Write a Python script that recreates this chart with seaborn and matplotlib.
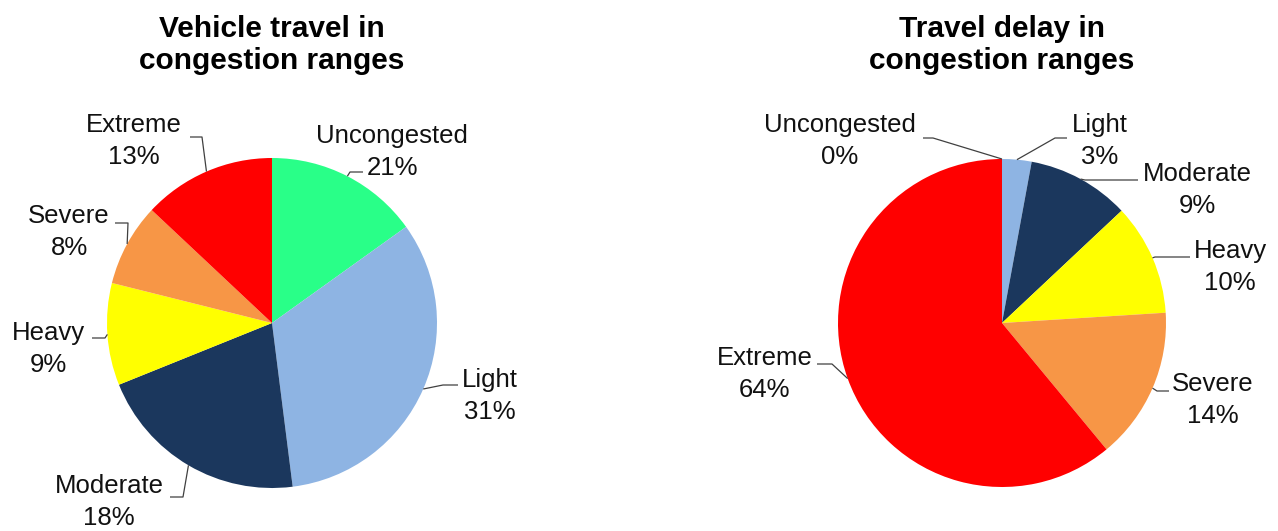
import matplotlib
matplotlib.use("Agg")
import matplotlib.pyplot as plt
import seaborn as sns
import numpy as np

# categories and values (slice sizes, labels as printed)
categories = ["Uncongested", "Light", "Moderate", "Heavy", "Severe", "Extreme"]
travel_share = [15.1, 32.9, 20.9, 10.0, 8.1, 13.0]
travel_labels = ["21%", "31%", "18%", "9%", "8%", "13%"]
delay_share = [0.0, 2.9, 10.1, 11.0, 15.0, 61.0]
delay_labels = ["0%", "3%", "9%", "10%", "14%", "64%"]
colors = ["#29FF88", "#8EB4E3", "#1B375D", "#FFFF00", "#F79646", "#FF0000"]

sns.set_theme(style="white")
plt.rcParams["font.family"] = ["Liberation Sans", "DejaVu Sans"]

W, H = 1278, 531
fig = plt.figure(figsize=(W / 100, H / 100), dpi=100)
fig.patch.set_facecolor("white")


def draw_pie(cx, cy, R, values, pcts, title, title_y, label_pos):
    L = 2.8
    ax = fig.add_axes([(cx - L * R) / W, (H - cy - L * R) / H, 2 * L * R / W, 2 * L * R / H])
    wedges, _ = ax.pie(values, colors=colors, startangle=90, counterclock=False,
                       radius=1, wedgeprops=dict(linewidth=0))
    ax.set_xlim(-L, L)
    ax.set_ylim(-L, L)
    ax.set_aspect("equal")
    ax.axis("off")

    def to_d(px, py):
        return (px - cx) / R, (cy - py) / R

    for w, name, pct, (tx, ty, sx, sy, kx) in zip(wedges, categories, pcts, label_pos):
        mid = np.deg2rad((w.theta1 + w.theta2) / 2)
        ax_, ay_ = np.cos(mid), np.sin(mid)
        x0, y0 = to_d(sx, sy)
        x1, _ = to_d(kx, sy)
        ax.plot([x0, x1, ax_], [y0, y0, ay_], color="#404040", lw=0.9,
                clip_on=False, solid_capstyle="butt")
        x, y = to_d(tx, ty)
        ax.text(x, y, f"{name}\n{pct}", ha="center", va="center", fontsize=18.5,
                color="#111111", linespacing=1.4, clip_on=False)

    fig.text(cx / W, 1 - title_y / H, title, ha="center", va="center",
             fontsize=21.5, fontweight="bold", color="black", linespacing=1.22)
    return ax


# label layout: text centre (x, y), leader start (x, y), knee x  -- pixels
left_layout = [
    (392, 152, 363, 172, 350),
    (490, 396, 458, 385, 443),
    (109, 502, 170, 497, 183),
    (48, 349, 92, 338, 105),
    (69, 232, 115, 223, 128),
    (134, 141, 190, 137, 202),
]
right_layout = [
    (840, 141, 923, 138, 933),
    (1100, 141, 1067, 138, 1055),
    (1197, 190, 1138, 180, 1085),
    (1230, 267, 1190, 257, 1155),
    (1213, 400, 1169, 391, 1157),
    (765, 374, 817, 364, 832),
]

draw_pie(272, 323, 165, travel_share, travel_labels,
         "Vehicle travel in\ncongestion ranges", 45, left_layout)
draw_pie(1002, 323, 164, delay_share, delay_labels,
         "Travel delay in\ncongestion ranges", 45, right_layout)

plt.savefig("out.png", dpi=100, facecolor="white")
